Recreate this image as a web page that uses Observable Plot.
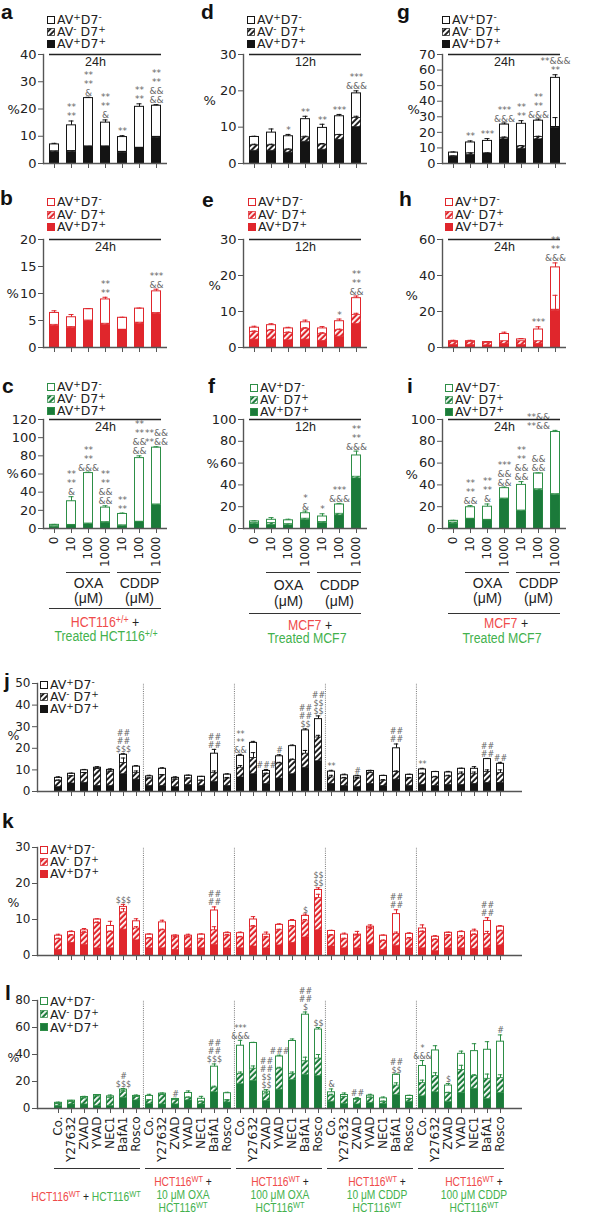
<!DOCTYPE html>
<html><head><meta charset="utf-8">
<script src="https://cdn.jsdelivr.net/npm/d3@7"></script>
<script src="https://cdn.jsdelivr.net/npm/@observablehq/plot@0.6"></script>
<style>
body{margin:0;background:#fff;font-family:Arial,"Liberation Sans",Helvetica,sans-serif;color:#222;}
#root{position:relative;width:603px;height:1220px;overflow:hidden;background:#fff;}
.abs{position:absolute;white-space:nowrap;}
.dv{font-family:"DejaVu Sans",sans-serif;}
sup{font-size:0.72em;vertical-align:0.42em;line-height:0;}
.r{color:#ef4b4b;} .g{color:#43b14d;}
</style></head>
<body>
<svg width="0" height="0" style="position:absolute">
<defs>
<pattern id="hK" width="4" height="4" patternUnits="userSpaceOnUse" patternTransform="rotate(45)"><rect width="4" height="4" fill="#141414"/><rect width="2.1" height="4" fill="#fff"/></pattern>
<pattern id="hR" width="4" height="4" patternUnits="userSpaceOnUse" patternTransform="rotate(45)"><rect width="4" height="4" fill="#e0262c"/><rect width="1.8" height="4" fill="#fff"/></pattern>
<pattern id="hG" width="4" height="4" patternUnits="userSpaceOnUse" patternTransform="rotate(45)"><rect width="4" height="4" fill="#1b7a3a"/><rect width="1.8" height="4" fill="#fff"/></pattern>
</defs></svg>
<div id="root"></div>
<script>
// ---------- data ----------
const concLabels = ["0","10","100","1000","10","100","1000"];
const drugLabels = ["Co.","Y27632","ZVAD","YVAD","NEC1","BafA1","Rosco"];
const legendLabels = ["AV<sup>+</sup>D7<sup>-</sup>","AV<sup>-</sup> D7<sup>+</sup>","AV<sup>+</sup>D7<sup>+</sup>"];

// panel a (24h, black)
const aTicks=[0,10,20,30,40];
const aSolid=[4.2,4.3,6.0,6.0,4.0,5.5,9.5];
const aHatch=[4.5,4.6,6.3,6.3,4.3,5.8,9.8];
const aTotal=[7.0,14.0,24.0,15.0,9.7,20.8,21.2];
const aErr=[7.4,15.6,24.3,16.0,10.2,21.9,21.6];
const aSig=["","**\n**","**\n**\n&","**\n**\n&","**","**\n**","**\n**\n&&\n&&"];
// panel d (12h, black)
const dTicks=[0,10,20,30];
const dSolid=[3.5,3.5,3.0,6.0,3.8,6.5,10.0];
const dHatch=[5.0,5.0,3.8,7.2,5.2,7.8,12.5];
const dHatchErr=[5.3,5.3,4.0,7.5,5.5,8.0,13.0];
const dTotal=[7.3,8.5,7.5,12.2,9.8,13.0,19.3];
const dErr=[7.5,9.5,8.0,13.0,10.8,13.5,20.0];
const dSig=["","","*","**","**","***","***\n&&&"];
// panel g (24h, black)
const gTicks=[0,10,20,30,40,50,60,70];
const gSolid=[4.0,5.5,6.0,15.5,9.5,15.5,23.0];
const gHatch=[4.6,6.5,6.5,16.5,11.0,17.0,23.5];
const gHatchErr=[4.8,6.8,6.8,17.0,11.5,17.5,29.5];
const gTotal=[7.0,13.5,14.5,25.0,25.5,27.5,55.0];
const gErr=[7.4,14.5,16.0,26.0,27.5,28.5,57.0];
const gSig=["","**","***","***\n&&&","**\n**","**\n**\n&&&","**&&&\n**"];
// panel b (24h, red)
const bTicks=[0,5,10,15,20];
const bSolid=[4.0,3.6,4.9,4.2,3.2,4.4,6.2];
const bHatch=[4.2,3.8,5.0,4.4,3.3,4.6,6.4];
const bTotal=[6.4,5.6,7.1,8.9,5.5,7.2,10.4];
const bErr=[6.8,6.1,7.2,9.3,5.6,7.3,10.8];
const bSig=["","","","**\n**","","","***\n&&"];
// panel e (12h, red)
const eTicks=[0,10,20,30];
const eSolid=[2.2,2.2,2.0,2.2,1.8,3.0,6.5];
const eHatch=[4.3,4.7,4.0,5.2,3.8,4.8,9.0];
const eHatchErr=[4.6,5.0,4.3,5.5,4.1,5.1,9.5];
const eTotal=[5.5,6.2,5.3,7.0,5.3,7.3,13.7];
const eErr=[5.9,6.6,5.6,7.6,5.8,7.9,14.3];
const eSig=["","","","","","*","**\n**\n&&"];
// panel h (24h, red)
const hTicks=[0,20,40,60];
const hSolid=[1.5,1.5,1.2,2.0,1.5,2.0,20.5];
const hHatch=[3.0,3.0,2.5,3.5,3.5,3.5,21.0];
const hHatchErr=[3.0,3.0,2.5,3.5,3.5,3.5,29.0];
const hTotal=[3.5,3.5,3.0,7.5,4.5,10.0,44.5];
const hErr=[4.0,4.0,3.3,8.5,5.0,11.5,47.0];
const hSig=["","","","","","***","**\n**\n&&&"];
// panel c (24h, green)
const cTicks=[0,20,40,60,80,100,120];
const cSolid=[2.0,3.5,5.0,6.5,3.0,7.0,26.0];
const cHatch=[2.5,4.0,5.5,7.0,3.5,7.5,26.5];
const cTotal=[4.0,30.0,61.0,23.0,16.0,77.5,89.0];
const cErr=[4.5,35.0,62.0,25.0,17.0,80.0,90.0];
const cSig=["","**\n**\n&","**\n**\n&&&","**\n**\n&&\n&&","**\n**","**\n**\n&&\n&&","**&&\n**&&"];
// panel f (12h, green)
const fTicks=[0,20,40,60,80,100];
const fSolid=[4.0,3.5,3.0,8.0,5.0,12.0,46.0];
const fHatch=[5.0,5.0,4.0,9.0,6.0,13.5,47.5];
const fTotal=[6.5,8.0,7.5,14.0,11.0,22.0,67.0];
const fErr=[7.0,10.0,8.5,16.0,13.5,23.0,71.0];
const fSig=["","","","*\n&","*","***\n&&&","**\n**\n&&&"];
// panel i (24h, green)
const iTicks=[0,20,40,60,80,100];
const iSolid=[4.5,8.5,7.5,27.0,16.0,35.0,31.0];
const iHatch=[5.5,9.0,8.0,27.5,16.5,36.0,31.5];
const iTotal=[7.0,19.5,20.0,37.0,40.0,50.5,88.5];
const iErr=[7.5,21.0,22.5,38.0,43.0,51.0,90.0];
const iSig=["","**\n**\n&&","**\n**\n&","***\n&&\n&&","**\n**\n&&\n&&","&&\n&&","**&&\n**&&"];
const iSigDx=[0,0,0,0,0,0,-17];

// panel j (black)
const jTicks=[0,10,20,30,40,50];
const jSolid=[2.0,3.7,4.0,2.5,2.5,8.0,5.5, 2.5,2.5,2.0,3.0,2.5,4.5,2.5, 6.5,8.0,3.5,6.0,8.0,11.0,14.0, 3.5,2.5,2.0,3.5,2.5,5.5,2.5, 3.0,2.5,3.0,3.0,3.5,4.0,4.0];
const jHatch=[5.0,7.0,8.5,10.5,9.2,13.2,8.5, 6.0,7.5,5.5,6.0,5.0,8.5,6.0, 11.0,15.5,8.0,13.0,14.5,17.5,25.0, 6.5,6.0,6.0,8.5,5.0,9.0,6.0, 8.0,6.5,7.0,8.0,8.0,9.0,8.5];
const jHatchErr=[5.3,7.3,8.8,10.8,9.5,15.5,9.5, 6.3,7.8,5.8,6.3,5.3,9.5,6.5, 12.0,18.0,8.5,13.5,15.0,19.0,26.0, 7.5,6.5,6.5,9.0,5.5,9.5,6.5, 8.5,7.0,7.5,9.0,9.0,10.0,10.0];
const jTotal=[6.3,8.2,9.8,11.0,10.0,17.0,11.5, 7.0,10.5,6.3,7.3,6.8,17.5,7.8, 16.5,22.5,9.5,16.3,21.0,28.3,33.5, 9.2,7.5,7.0,9.5,7.2,20.0,7.7, 10.2,9.0,8.8,10.5,10.5,15.0,12.8];
const jErr=[6.8,8.5,10.2,11.5,10.5,17.5,12.0, 7.5,11.0,6.8,7.6,7.0,19.5,8.2, 17.2,23.2,10.2,17.0,21.5,29.0,35.0, 9.8,8.0,7.5,9.8,7.5,22.0,8.0, 10.7,9.3,9.3,10.8,11.5,15.3,13.5];
const jSig=["","","","","","##\n##\n$$$","", "","","","","","##\n##","", "**\n**\n&&","","###","#","","##\n##\n$$","##\n$$\n$$", "**","","#","","","##\n##","", "**","","","","","##\n##","##"];
// panel k (red)
const kTicks=[0,10,20,30];
const kSolid=[1.5,3.5,3.0,2.0,2.0,7.2,4.2, 2.0,2.0,1.5,2.0,2.0,3.0,2.0, 2.0,2.5,2.0,2.8,3.5,5.0,7.0, 2.5,2.0,2.0,3.0,1.5,2.7,2.0, 2.0,1.2,2.0,2.0,1.8,2.0,2.8];
const kHatch=[4.5,5.5,6.3,9.0,6.5,12.0,7.5, 4.7,7.0,5.0,5.0,4.5,7.0,5.5, 5.0,8.0,5.0,7.0,8.0,9.5,16.0, 5.5,4.5,5.5,7.5,4.0,6.0,4.5, 6.5,4.3,5.5,5.0,5.7,6.0,6.7];
const kHatchErr=[4.8,5.8,6.6,9.3,6.8,13.0,8.0, 5.0,7.3,5.3,5.3,4.8,8.0,5.8, 5.3,8.3,5.3,7.3,8.3,10.0,17.0, 5.8,4.8,5.8,7.8,4.3,6.5,5.0, 6.8,4.6,5.8,5.5,6.0,6.7,7.0];
const kTotal=[5.5,6.5,7.0,10.0,8.2,13.5,9.5, 5.8,9.2,5.5,5.5,5.8,12.5,6.2, 6.2,10.0,5.8,8.5,9.6,11.0,18.2, 6.8,5.8,5.8,8.0,5.5,11.5,6.0, 7.5,5.2,6.3,6.5,6.7,9.6,8.0];
const kErr=[5.9,6.8,7.5,10.2,9.5,14.2,10.2, 6.0,9.8,5.7,5.9,6.0,13.5,6.5, 6.5,10.8,6.5,8.8,10.0,11.5,18.8, 7.0,6.2,6.7,8.5,5.7,12.7,6.3, 8.5,5.5,6.5,6.8,7.3,10.5,8.3];
const kSig=["","","","","","$$$","", "","","","","","##\n##","", "","","","","","$","$$\n$$", "","","","","","##\n##","", "","","","","","##\n##",""];
// panel l (green)
const lTicks=[0,20,40,60,80];
const lSolid=[2.0,3.0,3.0,2.0,2.0,8.0,6.0, 3.5,3.0,3.0,6.0,3.0,12.0,4.5, 18.0,20.5,5.5,14.0,21.0,25.0,24.0, 5.0,3.5,3.0,4.0,3.5,10.0,5.0, 9.0,12.0,5.0,11.5,14.5,7.0,11.5];
const lHatch=[3.5,5.0,7.5,9.0,8.0,12.5,8.5, 6.0,10.0,6.5,8.0,5.0,15.5,6.0, 25.5,29.5,10.5,29.5,25.5,35.0,37.0, 9.5,8.5,6.5,8.0,5.0,17.0,7.0, 19.0,24.0,11.5,28.5,24.0,22.0,22.5];
const lHatchErr=[3.8,5.3,8.0,9.5,8.5,13.5,9.0, 6.5,10.5,7.0,8.5,5.5,16.5,6.5, 27.0,31.5,12.0,30.5,27.0,38.0,40.0, 10.5,9.0,7.0,8.5,5.5,19.0,7.5, 21.0,26.5,12.0,32.0,25.0,25.5,25.0];
const lTotal=[4.2,5.8,8.5,10.0,9.0,14.0,9.3, 9.3,11.0,7.0,11.5,7.2,31.0,11.3, 46.5,48.5,12.5,38.5,50.0,69.5,58.5, 12.0,10.0,7.0,9.5,7.5,25.0,9.3, 31.5,43.0,17.0,40.5,42.5,43.5,49.5];
const lErr=[4.7,6.0,9.0,10.3,10.0,14.8,10.0, 10.5,11.5,7.5,13.0,9.0,33.0,12.0, 50.5,49.0,14.0,39.5,51.5,71.5,60.0, 14.5,11.5,8.0,10.5,8.5,25.5,9.8, 35.5,46.5,18.5,42.5,48.0,49.5,54.5];
const lSig=["","","","","","#\n$$$","", "","","#","","","##\n##\n$$$","", "***\n&&&","","##\n##\n$$\n$$","###","","##\n##\n$","$$", "&","","##","","","##\n$$","", "*\n&&&","","$","","","","#"];

// ---------- styles ----------
const blackC="#141414", redC="#e0262c", greenC="#1b7a3a", greenS="#2d8e46", axisC="#555";
const root=document.getElementById("root");
const DV="'DejaVu Sans', sans-serif";
const AR="Arial, 'Liberation Sans', Helvetica, sans-serif";

function put(html,x,y,fs,anchor,lh,cls,sx){
  lh=lh||fs;
  const d=document.createElement("div");d.className="abs"+(cls?" "+cls:"");
  d.style.fontSize=fs+"px";d.style.lineHeight=lh+"px";
  d.style.left=x+"px";d.style.top=(y-lh*0.5)+"px";
  if(anchor==="middle")d.style.transform="translateX(-50%)"+(sx?` scaleX(${sx})`:"");
  d.innerHTML=html;root.appendChild(d);return d;
}
function letter(ch,x,base){
  const d=document.createElement("div");d.className="abs";
  d.style.cssText+="font-weight:bold;font-size:21px;line-height:16px;left:"+x+"px;top:"+(base-15.3)+"px;color:#111";
  d.textContent=ch;root.appendChild(d);
}
function legend(x,y,gap,fill,stroke,pat){
  const sw=[`<rect x="0.5" y="0.5" width="7" height="7" fill="white" stroke="${stroke}"/>`,
            `<rect x="0.5" y="0.5" width="7" height="7" fill="url(#${pat})" stroke="${stroke}" stroke-width="0.7"/>`,
            `<rect x="0.5" y="0.5" width="7" height="7" fill="${fill}" stroke="${stroke}"/>`];
  sw.forEach((s,i)=>{
    const cy=y+i*gap;
    const d=document.createElement("div");d.className="abs";
    d.style.left=x+"px";d.style.top=(cy-4)+"px";
    d.innerHTML=`<svg width="8" height="8" style="display:block">${s}</svg>`;root.appendChild(d);
  });
  const t=document.createElement("div");t.className="abs dv";
  t.style.cssText+=`font-size:12.5px;line-height:${gap}px;left:${x+10}px;top:${y+0.5-gap/2}px;`;
  t.innerHTML=legendLabels.join("<br>");root.appendChild(t);
}

function panel(o){
  const n=o.total.length;
  const rows=d3.range(n).map(i=>({k:i,solid:o.solid[i],hatch:o.hatch[i],
    hErr:o.hatchErr?o.hatchErr[i]:o.hatch[i],total:o.total[i],err:o.err[i],
    sig:o.sig[i],sdx:o.sigDx?o.sigDx[i]:0}));
  const inner=rows.filter(d=>d.hErr>d.hatch+0.05);
  const step=(o.width-o.ml-o.mr)/n;
  const marks=[
    Plot.frame({anchor:"left",stroke:axisC,strokeWidth:1.4}),
    Plot.barY(rows,{x:"k",y1:0,y2:"total",fill:"white",stroke:o.stroke,strokeWidth:1,insetLeft:0.5,insetRight:0.5}),
    Plot.barY(rows,{x:"k",y1:0,y2:"solid",fill:o.color,insetLeft:0.5,insetRight:0.5}),
    Plot.barY(rows,{x:"k",y1:"solid",y2:"hatch",fill:`url(#${o.pat})`,stroke:o.stroke,strokeWidth:0.8,insetLeft:0.5,insetRight:0.5}),
    Plot.ruleX(rows,{x:"k",y1:"total",y2:"err",stroke:o.stroke,strokeWidth:1}),
    Plot.tickY(rows,{x:"k",y:"err",stroke:o.stroke,strokeWidth:1,insetLeft:o.cap,insetRight:o.cap}),
    Plot.ruleX(inner,{x:"k",y1:"hatch",y2:"hErr",stroke:o.stroke,strokeWidth:1}),
    Plot.tickY(inner,{x:"k",y:"hErr",stroke:o.stroke,strokeWidth:1,insetLeft:o.cap,insetRight:o.cap}),
    Plot.ruleY([0],{stroke:axisC,strokeWidth:1.4}),
    Plot.axisY({ticks:o.yTicks,tickSize:5,tickPadding:2,fontSize:o.yFont||13,stroke:axisC,label:null}),
    Plot.axisX({tickSize:5,stroke:axisC,label:null,fontSize:12,tickPadding:3,
      tickRotate:o.xLabels?-90:0,tickFormat:o.xLabels?(i=>o.xLabels[i]):(()=>"")}),
    Plot.text([0],{frameAnchor:"left",text:()=>"%",dx:o.pct[0],dy:o.pct[1],fontSize:o.pctFont||13,fill:"#222"})
  ];
  const dxs=[...new Set(rows.map(d=>d.sdx))];
  for(const dx of dxs){
    marks.push(Plot.text(rows.filter(d=>d.sig&&d.sdx===dx),{x:"k",y:"err",text:"sig",lineAnchor:"bottom",dy:-1.5,dx,
      fontSize:o.sigSize,lineHeight:1,fill:"#666"}));
  }
  if(o.time){
    marks.push(Plot.ruleY([{y:o.ymax,a:0,b:n-1}],{y:"y",x1:"a",x2:"b",stroke:"#222",strokeWidth:1.3}));
    marks.push(Plot.text([{t:o.time}],{x:()=>3,y:()=>o.ymax,text:"t",lineAnchor:"top",dy:3,dx:o.timeDx||0,fontSize:12.5,fontFamily:AR,fill:"#222"}));
  }
  if(o.drugGroups){
    const g=o.groupDy;
    marks.push(Plot.ruleY([{a:1,b:3},{a:4,b:6}],{x1:"a",x2:"b",y:()=>0,dy:g[0],stroke:"#333",strokeWidth:1.2}));
    marks.push(Plot.text([{x:2,t:"OXA"},{x:5,t:"CDDP"}],{x:"x",y:()=>0,text:"t",dy:g[1],fontSize:14,fontFamily:AR,fill:"#222"}));
    marks.push(Plot.text([{x:2,t:"(μM)"},{x:5,t:"(μM)"}],{x:"x",y:()=>0,text:"t",dy:g[2],fontSize:14,fontFamily:AR,fill:"#222"}));
    marks.push(Plot.ruleY([{a:0,b:6}],{x1:"a",x2:"b",y:()=>0,dy:g[3],stroke:"#333",strokeWidth:1.2}));
  }
  if(o.separators){
    marks.push(Plot.ruleX([6,13,20,27],{x:d=>d,y1:0,y2:o.ymax,dx:step/2,stroke:"#777",strokeWidth:1,strokeDasharray:"1,1.2"}));
  }
  if(o.wideGroups){
    marks.push(Plot.ruleY([0,1,2,3,4].map(i=>({a:i*7,b:i*7+6})),{x1:"a",x2:"b",y:()=>0,dy:o.wideDy,stroke:"#333",strokeWidth:1.2}));
  }
  const svg=Plot.plot({
    width:o.width,height:o.mt+o.frameH+o.mb,
    marginLeft:o.ml,marginRight:o.mr,marginTop:o.mt,marginBottom:o.mb,
    x:{type:"band",domain:d3.range(n),paddingInner:o.pad,paddingOuter:o.pad/2},
    y:{domain:[0,o.ymax]},
    style:{fontFamily:DV,color:"#222",background:"transparent",overflow:"visible"},
    marks
  });
  svg.style.position="absolute";svg.style.left=o.left+"px";svg.style.top=o.top+"px";
  root.appendChild(svg);
}

const small={width:175,mt:10,pad:0.4,cap:2.5,sigSize:9};
const colA={left:0,width:170,ml:43,mr:3};
const colD={left:195,width:175,ml:48,mr:3};
const colG={left:395,width:175,ml:47,mr:4};
const row1={top:44,frameH:109,mb:8};
const row2={top:229,frameH:108,mb:8};
const row3={top:409,frameH:109,mb:90};
const K={color:blackC,stroke:blackC,pat:"hK"}, R={color:redC,stroke:redC,pat:"hR"}, G={color:greenC,stroke:greenS,pat:"hG"};

panel({...small,...colA,...row1,...K,ymax:40,yTicks:aTicks,solid:aSolid,hatch:aHatch,total:aTotal,err:aErr,sig:aSig,time:"24h",timeDx:-10,pct:[-36,1]});
panel({...small,...colD,...row1,...K,ymax:30,yTicks:dTicks,solid:dSolid,hatch:dHatch,hatchErr:dHatchErr,total:dTotal,err:dErr,sig:dSig,time:"12h",pct:[-40,-8]});
panel({...small,...colG,...row1,...K,ymax:70,yTicks:gTicks,solid:gSolid,hatch:gHatch,hatchErr:gHatchErr,total:gTotal,err:gErr,sig:gSig,time:"24h",pct:[-35,1]});
panel({...small,...colA,...row2,...R,ymax:20,yTicks:bTicks,solid:bSolid,hatch:bHatch,total:bTotal,err:bErr,sig:bSig,time:"24h",pct:[-37,0]});
panel({...small,...colD,...row2,...R,ymax:30,yTicks:eTicks,solid:eSolid,hatch:eHatch,hatchErr:eHatchErr,total:eTotal,err:eErr,sig:eSig,time:"12h",pct:[-35,-8]});
panel({...small,...colG,...row2,...R,ymax:60,yTicks:hTicks,solid:hSolid,hatch:hHatch,hatchErr:hHatchErr,total:hTotal,err:hErr,sig:hSig,time:"24h",pct:[-37,2]});
panel({...small,...colA,...row3,...G,ymax:120,yTicks:cTicks,solid:cSolid,hatch:cHatch,total:cTotal,err:cErr,sig:cSig,time:"24h",pct:[-37,0],xLabels:concLabels,drugGroups:true,groupDy:[44,55,70,80]});
panel({...small,...colD,...row3,...G,ymax:100,yTicks:fTicks,solid:fSolid,hatch:fHatch,total:fTotal,err:fErr,sig:fSig,time:"12h",pct:[-37,-10],xLabels:concLabels,drugGroups:true,groupDy:[44,57,73,85]});
panel({...small,...colG,...row3,...G,ymax:100,yTicks:iTicks,solid:iSolid,hatch:iHatch,total:iTotal,err:iErr,sig:iSig,sigDx:iSigDx,time:"24h",pct:[-37,1],xLabels:concLabels,drugGroups:true,groupDy:[44,55,70,85]});

const wide={left:0,width:524,ml:37,mr:2,mt:10,frameH:108,pad:0.36,cap:1.8,sigSize:8,separators:true,yFont:12,pctFont:12.5};
panel({...wide,...K,top:673,mb:8,ymax:50,yTicks:jTicks,solid:jSolid,hatch:jHatch,hatchErr:jHatchErr,total:jTotal,err:jErr,sig:jSig,pct:[-30,-2]});
panel({...wide,...R,top:837,mb:8,ymax:30,yTicks:kTicks,solid:kSolid,hatch:kHatch,hatchErr:kHatchErr,total:kTotal,err:kErr,sig:kSig,pct:[-30,1]});
panel({...wide,...G,top:990,mb:70,ymax:80,yTicks:lTicks,solid:lSolid,hatch:lHatch,hatchErr:lHatchErr,total:lTotal,err:lErr,sig:lSig,pct:[-30,3],
  xLabels:d3.range(35).map(i=>drugLabels[i%7]),wideGroups:true,wideDy:60});

// ---------- letters & legends ----------
letter("a",1,19.5);letter("d",201,19.5);letter("g",397,19.5);
letter("b",0,205);letter("e",202,207);letter("h",399,206);
letter("c",2,393);letter("f",208,393);letter("i",407,393);
letter("j",4,688);letter("k",2,828);letter("l",5,1000);

legend(47,19.5,12,blackC,blackC,"hK");legend(247,19.5,12,blackC,blackC,"hK");legend(442,19.5,12,blackC,blackC,"hK");
legend(47,202,12.5,redC,redC,"hR");legend(248,202,12.5,redC,redC,"hR");legend(445,202,12.5,redC,redC,"hR");
legend(47,386.5,12,greenC,greenS,"hG");legend(250,387.5,12,greenC,greenS,"hG");legend(445,387.5,12,greenC,greenS,"hG");
legend(40,684.5,12,blackC,blackC,"hK");legend(40,849.5,12,redC,redC,"hR");legend(40,1001,13,greenC,greenS,"hG");

// ---------- cell labels ----------
put('<span class="r">HCT116<sup>+/+</sup></span> +',105,622,14,"middle",13,"",0.88);
put('<span class="g">Treated HCT116<sup>+/+</sup></span>',106,636,14,"middle",13,"",0.88);
put('<span class="r">MCF7</span> +',310,625,14,"middle",13,"",0.88);
put('<span class="g">Treated MCF7</span>',307,638.5,14,"middle",13,"",0.88);
put('<span class="r">MCF7</span> +',506,623,14,"middle",13,"",0.88);
put('<span class="g">Treated MCF7</span>',502,638,14,"middle",13,"",0.88);

const groupNames=["10 μM OXA","100 μM OXA","10 μM CDDP","100 μM CDDP"];
const gc=[85.5,182.5,279.5,376.5,473.5];
put('<span class="r">HCT116<sup>WT</sup></span> + <span class="g">HCT116<sup>WT</sup></span>',gc[0],1197,12.5,"middle",12.5,"",0.82);
groupNames.forEach((t,i)=>{
  put('<span class="r">HCT116<sup>WT</sup></span> +',gc[i+1],1182,12.5,"middle",12.5,"",0.82);
  put('<span class="g">'+t+'</span>',gc[i+1],1195,12.5,"middle",12.5,"",0.82);
  put('<span class="g">HCT116<sup>WT</sup></span>',gc[i+1],1208,12.5,"middle",12.5,"",0.82);
});
</script>
</body></html>
